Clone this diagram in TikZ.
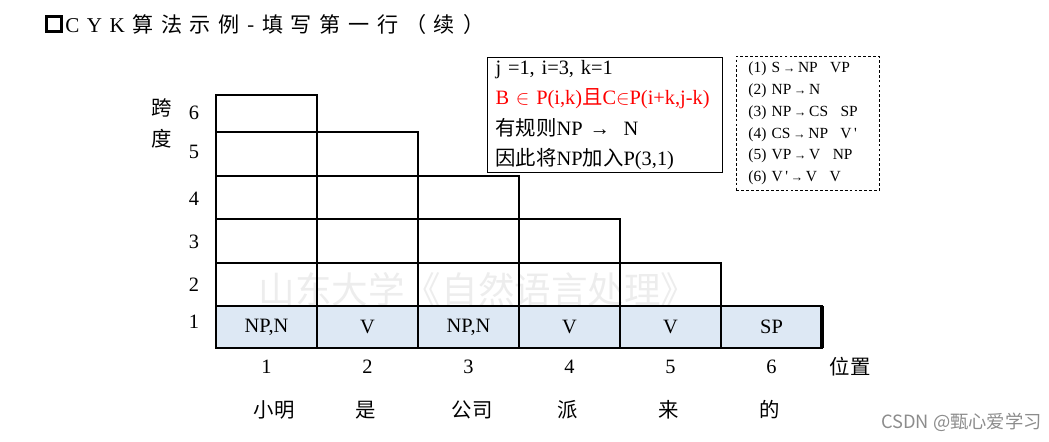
\documentclass[tikz,border=0pt]{standalone}
\usepackage{fontspec}
\setmainfont{Liberation Serif}
\newfontfamily\cjk{Noto Sans CJK SC}
\usepackage{xcolor}
\usetikzlibrary{positioning}
\definecolor{cellblue}{RGB}{221,232,244}
\newcommand{\tgap}{\hspace{5.4pt}}
\newcommand{\rgap}{\hspace{0.8em}}
\newcommand{\ra}{\,{\fontsize{9}{9}\selectfont →}\,}

\begin{document}
\begin{tikzpicture}[
    x=0.025cm,y=-0.025cm,
    cell/.style={draw,line width=0.8pt,minimum width=2.525cm,inner sep=0pt,outer sep=0pt},
    base/.style={fill=cellblue,font=\fontsize{14.5}{14.5}\selectfont},
    num/.style={font=\fontsize{14.5}{14.5}\selectfont,inner sep=0pt},
    word/.style={font=\cjk\fontsize{14.5}{14.5}\selectfont,inner sep=0pt},
    info/.style={draw,line width=0.8pt,align=left,text width=5.475cm,minimum height=2.875cm,
        inner xsep=0.2cm,inner ysep=0pt,font=\fontsize{14.5}{21.5}\selectfont},
    rules/.style={draw,dash pattern=on 2pt off 1.5pt,line width=0.6pt,align=left,text width=2.975cm,
        minimum height=3.35cm,inner xsep=0.3cm,inner ysep=0pt,font=\fontsize{11}{15.5}\selectfont},
    wmark/.style={inner sep=0pt}
]
\useasboundingbox (0,0) rectangle (1049,441);

% watermarks
\node[wmark,font=\cjk\fontsize{26}{26}\selectfont,text=black!7] (wm) at (478,290)
    {山东大学《自然语言处理》};
\node[wmark,anchor=east,font=\cjk\fontsize{13}{13}\selectfont,text=black!45] (csdn) at (1042,422)
    {CSDN @甄心爱学习};

% title
\node[draw,line width=2.2pt,minimum size=0.38cm,inner sep=0pt] (bullet) at (54,24) {};
\node[wmark,anchor=west,font=\fontsize{15}{15}\selectfont] (title) at (65,24)
    {C\tgap Y\tgap K\tgap{\cjk 算\tgap 法\tgap 示\tgap 例\tgap -\tgap 填\tgap 写\tgap 第\tgap 一\tgap 行\tgap（\hspace{5pt}续\hspace{6pt}）}};

% chart
\foreach \row/\yb/\yt in {2/306/263,3/263/219,4/219/176,5/176/132,6/132/95}{
  \pgfmathtruncatemacro\ncol{7-\row}
  \pgfmathsetmacro\hgt{(\yb-\yt)*0.025}
  \foreach \col in {1,...,\ncol}
    \node[cell,minimum height=\hgt cm] (c\row\col) at ({165.5+101*\col},{(\yb+\yt)/2}) {};
}
\foreach \col/\lab in {1/{NP,N},2/V,3/{NP,N},4/V,5/V,6/SP}
  \node[cell,base,minimum height=1.05cm] (c1\col) at ({165.5+101*\col},327) {\lab};
\draw[line width=1.6pt] (c11.north west) rectangle (c16.south east);
\draw[line width=3pt] (c16.north east) -- (c16.south east);
\draw[line width=2pt] (c61.north west) -- (c61.north east);

% axes
\foreach \row/\y in {1/322,2/285,3/242,4/199,5/152,6/113}
  \node[num] (h\row) at (194,\y) {\row};
\node[word] (kua) at (162,108) {跨};
\node[word,below=0.28cm of kua] (du) {度};
\foreach \col in {1,...,6}
  \node[num,below=0.3cm of c1\col] (p\col) {\col};
\node[word] (pos) at (850,367) {位置};
\foreach \x/\w [count=\i] in {274/小明,366/是,472/公司,568/派,669/来,770/的}
  \node[word] (w\i) at (\x,410) {\w};

% boxes
\node[info,anchor=north west] (step) at (487,57)
    {j =1, i=3, k=1\\
     \textcolor{red}{B $\in$ P(i,k){\cjk 且}C$\in$P(i+k,j-k)}\\
     {\cjk 有规则}NP →\ \ N\\
     {\cjk 因此将}NP{\cjk 加入}P(3,1)};
\node[rules,anchor=north west] (gram) at (736,56)
    {\mbox{(1)\ S\ra NP\rgap VP}\\
     \mbox{(2)\ NP\ra N}\\
     \mbox{(3)\ NP\ra CS\rgap SP}\\
     \mbox{(4)\ CS\ra NP\rgap V\,\textquotesingle}\\
     \mbox{(5)\ VP\ra V\rgap NP}\\
     \mbox{(6)\ V\,\textquotesingle\ra V\rgap V}};
\end{tikzpicture}
\end{document}
